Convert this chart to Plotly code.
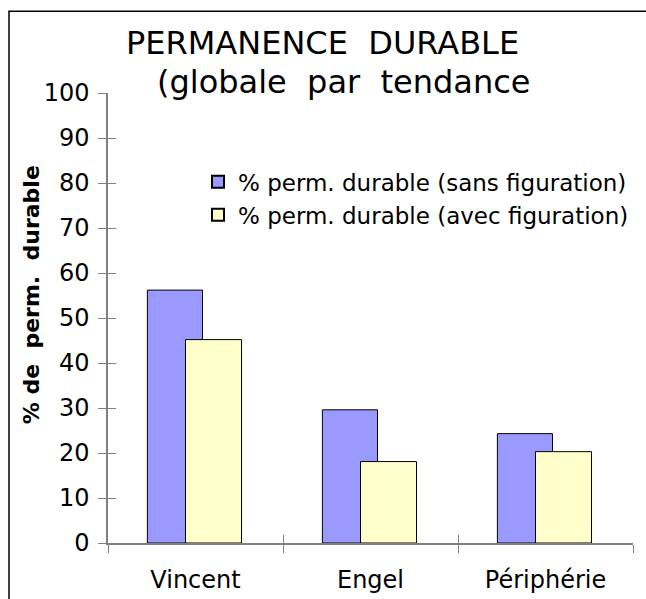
import plotly.graph_objects as go

categories = ["Vincent", "Engel", "Périphérie"]
sans_fig = [56.2, 29.6, 24.3]
avec_fig = [45.2, 18.1, 20.3]
name_sans = "% perm. durable (sans figuration)"
name_avec = "% perm. durable (avec figuration)"
y_ticks = [0, 10, 20, 30, 40, 50, 60, 70, 80, 90, 100]

FONT = "DejaVu Sans"

fig = go.Figure()
fig.add_trace(go.Bar(
    x=categories, y=sans_fig, name=name_sans,
    marker=dict(color="#9999FF", line=dict(color="black", width=1)),
    offset=-0.275, width=0.315,
))
fig.add_trace(go.Bar(
    x=categories, y=avec_fig, name=name_avec,
    marker=dict(color="#FFFFCC", line=dict(color="black", width=1)),
    offset=-0.057, width=0.32,
))

axis_col = "#808080"
fig.update_layout(
    width=646, height=599,
    barmode="overlay",
    paper_bgcolor="white", plot_bgcolor="white",
    margin=dict(l=108, r=13, t=93, b=56, autoexpand=False),
    font=dict(family=FONT, size=24, color="black"),
    showlegend=True,
    legend=dict(
        x=(198-108)/525, y=(542.7-160)/450, xanchor="left", yanchor="top",
        font=dict(family=FONT, size=23), bgcolor="rgba(0,0,0,0)",
        itemsizing="constant", tracegroupgap=0,
    ),
    xaxis=dict(
        type="category", range=[-0.5, 2.5], automargin=False,
        showline=True, linecolor=axis_col, linewidth=1.5,
        ticks="outside", ticklen=8, tickcolor=axis_col, tickson="boundaries",
        tickfont=dict(family=FONT, size=24), ticklabelstandoff=14,
        showgrid=False, zeroline=False,
    ),
    xaxis2=dict(
        type="category", overlaying="x", side="bottom", range=[-0.5, 2.5],
        categoryarray=categories, categoryorder="array", automargin=False,
        ticks="inside", ticklen=8, tickcolor=axis_col, tickson="boundaries",
        showticklabels=False, showline=False, showgrid=False, zeroline=False,
    ),
    yaxis=dict(
        range=[0, 100], tickvals=y_ticks, automargin=False,
        showline=True, linecolor=axis_col, linewidth=1.5,
        ticks="outside", ticklen=8, tickcolor=axis_col, ticklabelstandoff=4,
        tickfont=dict(family=FONT, size=24), showgrid=False, zeroline=False,
    ),
    yaxis2=dict(
        range=[0, 100], tickvals=y_ticks, overlaying="y", side="left", automargin=False,
        ticks="inside", ticklen=8, tickcolor=axis_col,
        showticklabels=False, showline=False, showgrid=False, zeroline=False,
    ),
)

# invisible trace to activate the secondary axes for inside ticks
fig.add_trace(go.Scatter(x=categories, y=[None]*3, xaxis="x2", yaxis="y2",
                         showlegend=False, hoverinfo="skip", mode="markers"))

fig.add_annotation(text="PERMANENCE  DURABLE", xref="paper", yref="paper",
                   x=(322-108)/525, y=(542.7-43)/450, xanchor="center", yanchor="middle",
                   showarrow=False, font=dict(family=FONT, size=32))
fig.add_annotation(text="(globale  par  tendance", xref="paper", yref="paper",
                   x=(155-108)/525, y=(542.7-82)/450, xanchor="left", yanchor="middle",
                   showarrow=False, font=dict(family=FONT, size=32))
fig.add_annotation(text="<b>% de  perm.  durable</b>", xref="paper", yref="paper",
                   x=(31-108)/525, y=(542.7-295)/450, xanchor="center", yanchor="middle",
                   textangle=-90, showarrow=False, font=dict(family=FONT, size=22))

# outer frame
fig.add_shape(type="rect", xref="paper", yref="paper",
              x0=(9-108)/525, x1=(660-108)/525, y0=(542.7-620)/450, y1=(542.7-11)/450,
              line=dict(color="black", width=1.5), fillcolor="rgba(0,0,0,0)", layer="below")

fig.write_html("out.html", config={"displayModeBar": False},
               post_script="document.body.style.margin='0';document.body.style.overflow='hidden';")
